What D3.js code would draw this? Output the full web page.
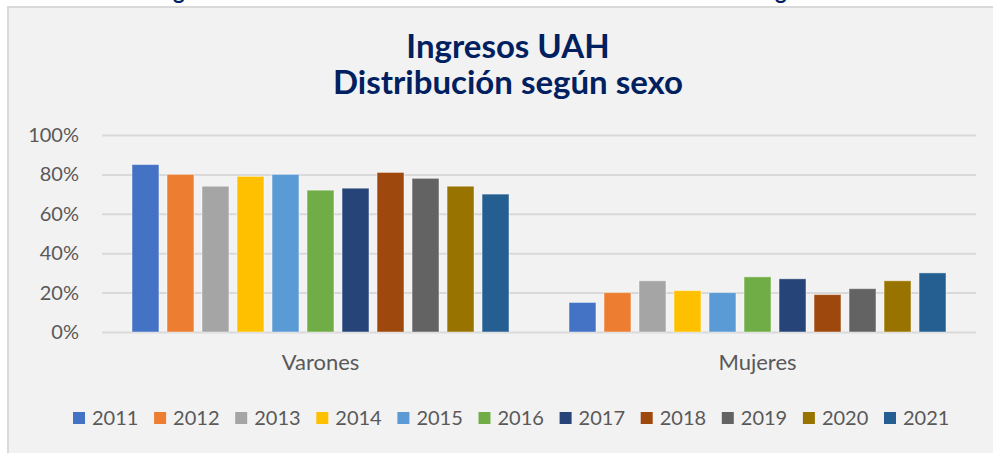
<!DOCTYPE html>
<html>
<head>
<meta charset="utf-8">
<script src="https://cdn.jsdelivr.net/npm/d3@7"></script>
<style>
  body { margin: 0; background: #fff; overflow: hidden; }
  text { font-family: Lato, "Noto Sans", sans-serif; }
</style>
</head>
<body>
<div id="chart"></div>
<script>
// Data (% of intake by sex, per year)
var categories = ["Varones", "Mujeres"];
var years = ["2011", "2012", "2013", "2014", "2015", "2016", "2017", "2018", "2019", "2020", "2021"];
var varones = [85, 80, 74, 79, 80, 72, 73, 81, 78, 74, 70];
var mujeres = [15, 20, 26, 21, 20, 28, 27, 19, 22, 26, 30];
var yTicks = [0, 20, 40, 60, 80, 100];
var colors = ["#4472C4", "#ED7D31", "#A5A5A5", "#FFC000", "#5B9BD5", "#70AD47",
              "#264478", "#9E480E", "#636363", "#997300", "#255E91"];

var width = 993, height = 453;
var svg = d3.select("#chart").append("svg").attr("width", width).attr("height", height);

// caption line above the chart box, cropped by the top edge like in the original
svg.append("text")
    .attr("x", 508).attr("y", -1)
    .attr("text-anchor", "middle")
    .style("font-size", "22px").style("font-weight", "bold").style("fill", "#002060")
    .text("Ingresos UAH 2011-2021 de estudios de Grado. Distribución según sexo");

// chart area box
svg.append("rect")
    .attr("x", 8).attr("y", 7)
    .attr("width", 1000).attr("height", 460)
    .style("fill", "#f2f2f2").style("stroke", "#d9d9d9").style("stroke-width", 2);

// title
var title = svg.append("text")
    .attr("text-anchor", "middle")
    .style("font-size", "33px").style("font-weight", "bold").style("fill", "#002060");
title.append("tspan").attr("x", 508).attr("y", 58).text("Ingresos UAH");
title.append("tspan").attr("x", 508).attr("y", 94).text("Distribución según sexo");

// scales
var x0 = d3.scaleBand().domain(categories).range([102, 976]);
var x1 = d3.scaleBand().domain(years).range([30, x0.bandwidth() - 30]).paddingInner(0.23);
var y = d3.scaleLinear().domain([0, 100]).range([332, 135]);

// y axis with gridlines
var yAxis = svg.append("g")
    .attr("transform", "translate(102,0)")
    .call(d3.axisLeft(y).tickValues(yTicks).tickFormat(function(d) { return d + "%"; })
        .tickSize(-874).tickPadding(23));
yAxis.select(".domain").remove();
yAxis.selectAll("line").style("stroke", "#d9d9d9").style("stroke-width", 2);
yAxis.selectAll("text").style("font-size", "20px").style("fill", "#595959")
    .style("font-family", "Lato, sans-serif");

// category axis
var xAxis = svg.append("g")
    .attr("transform", "translate(0,332)")
    .call(d3.axisBottom(x0).tickSize(0).tickPadding(22));
xAxis.select(".domain").remove();
xAxis.selectAll("text").style("font-size", "22px").style("fill", "#595959")
    .style("font-family", "Lato, sans-serif");

// bars
var rows = categories.map(function(c, i) {
    var vals = i === 0 ? varones : mujeres;
    return { cat: c, values: years.map(function(yr, j) { return { year: yr, value: vals[j], color: colors[j] }; }) };
});

var groups = svg.append("g").selectAll("g")
    .data(rows)
    .enter().append("g")
    .attr("transform", function(d) { return "translate(" + x0(d.cat) + ",0)"; });

groups.selectAll("rect")
    .data(function(d) { return d.values; })
    .enter().append("rect")
    .attr("x", function(d) { return x1(d.year); })
    .attr("y", function(d) { return y(d.value); })
    .attr("width", x1.bandwidth())
    .attr("height", function(d) { return y(0) - y(d.value); })
    .style("fill", function(d) { return d.color; })
    .style("stroke", "rgba(255,255,255,0.45)")
    .style("stroke-width", 1);

// legend
var legend = svg.append("g").selectAll("g")
    .data(years)
    .enter().append("g")
    .attr("transform", function(d, i) { return "translate(" + (73 + i * 81.1) + ",418)"; });

legend.append("rect")
    .attr("x", 0).attr("y", -6)
    .attr("width", 12).attr("height", 12)
    .style("fill", function(d, i) { return colors[i]; });

legend.append("text")
    .attr("x", 19).attr("dy", "0.36em")
    .style("font-size", "20px").style("fill", "#595959")
    .text(function(d) { return d; });
</script>
</body>
</html>
